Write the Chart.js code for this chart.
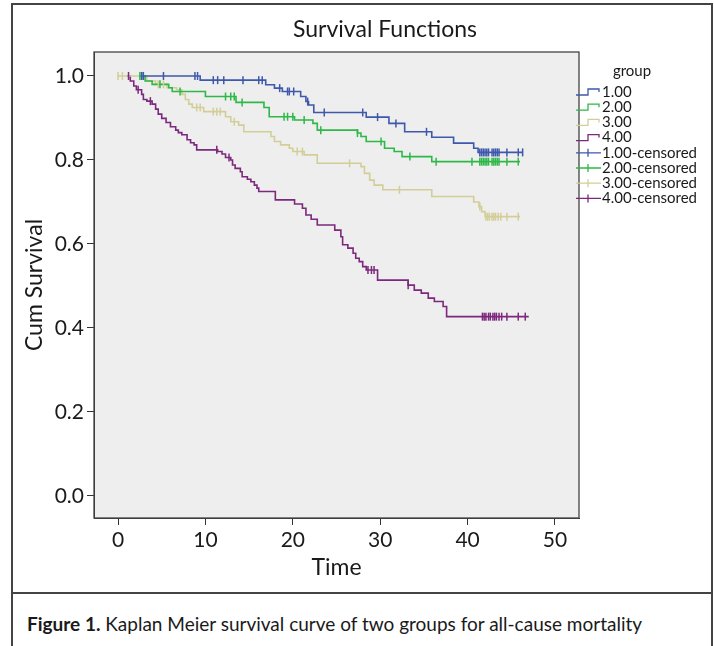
<!DOCTYPE html>
<html>
<head>
<meta charset="utf-8">
<title>Survival Functions</title>
<script src="https://cdn.jsdelivr.net/npm/chart.js@4.4.1/dist/chart.umd.min.js"></script>
<style>
  html, body { margin: 0; padding: 0; background: #fff; }
  body { width: 714px; height: 646px; position: relative; overflow: hidden; font-family: Lato, "Noto Sans", sans-serif; }
  .frame { position: absolute; left: 11px; top: 3px; width: 698px; height: 700px; border: 2px solid #444; }
  .divider { position: absolute; left: 11px; top: 592px; width: 702px; height: 2px; background: #444; }
  #wrap { position: absolute; left: 12px; top: 4px; width: 700px; height: 586px; }
  .caption { position: absolute; left: 27px; top: 612px; font-size: 19px; color: #1a1a1a; white-space: nowrap; }
  .caption b { font-weight: 700; }
</style>
</head>
<body>
<div class="frame"></div>
<div id="wrap"><canvas id="km" width="700" height="586"></canvas></div>
<div class="divider"></div>
<div class="caption"><b>Figure 1.</b> Kaplan Meier survival curve of two groups for all-cause mortality</div>

<script>
// ==========================================
// Data
// ==========================================
const TITLE = 'Survival Functions';
const X_TITLE = 'Time';
const Y_TITLE = 'Cum Survival';
const LEGEND_TITLE = 'group';
const groupNames = ['1.00', '2.00', '3.00', '4.00'];

const xTicks = [0, 10, 20, 30, 40, 50];
const yTicks = [0, 0.2, 0.4, 0.6, 0.8, 1.0];

// group 1.00
const g1Time = [2.7, 9.4, 16.9, 17.9, 18.8, 20.9, 21.5, 21.8, 22.4, 28.4, 31.0, 32.8, 35.9, 38.4, 40.7, 41.2, 46.3];
const g1Surv = [1.0, 0.99, 0.979, 0.971, 0.963, 0.951, 0.939, 0.931, 0.913, 0.902, 0.887, 0.867, 0.854, 0.840, 0.828, 0.818, 0.818];
const g1Censor = [2.7, 2.9, 5.2, 8.8, 9.1, 10.9, 11.4, 12.1, 14.3, 16.1, 16.5, 18.5, 19.4, 19.6, 20.1, 21.7, 23.6, 28.0, 29.7, 31.8, 35.3,
  41.4, 41.6, 41.8, 42.0, 42.2, 42.4, 42.8, 43.0, 43.2, 43.4, 43.6, 44.5, 45.8, 46.3];

// group 2.00
const g2Time = [2.5, 3.1, 3.9, 5.8, 6.2, 10.0, 13.5, 16.7, 17.3, 20.2, 22.3, 22.8, 27.4, 27.8, 28.4, 30.5, 31.6, 32.5, 35.9, 46.0];
const g2Surv = [1.0, 0.988, 0.98, 0.972, 0.963, 0.951, 0.937, 0.925, 0.903, 0.895, 0.887, 0.871, 0.864, 0.856, 0.844, 0.828, 0.82, 0.808, 0.796, 0.796];
const g2Censor = [2.5, 2.7, 4.8, 7.1, 12.3, 12.9, 13.3, 14.2, 19.0, 19.4, 20.0, 21.3, 23.2, 27.4, 30.1, 33.4, 36.4, 40.5,
  41.4, 41.6, 41.8, 42.0, 42.2, 42.4, 42.8, 43.0, 43.2, 43.4, 43.6, 44.5, 45.8];

// group 3.00
const g3Time = [0, 3.3, 4.3, 5.6, 6.7, 7.3, 7.7, 8.1, 8.5, 9.8, 12.3, 12.9, 13.8, 14.4, 17.5, 17.9, 18.6, 19.6, 20.0, 21.3, 22.8,
  27.8, 28.2, 28.8, 29.3, 30.3, 35.9, 40.7, 41.3, 41.6, 42.0, 46.0];
const g3Surv = [1.0, 0.988, 0.98, 0.972, 0.967, 0.956, 0.944, 0.933, 0.925, 0.915, 0.903, 0.891, 0.883, 0.867, 0.856, 0.844, 0.836, 0.828, 0.82, 0.812, 0.792,
  0.784, 0.768, 0.752, 0.74, 0.729, 0.713, 0.70, 0.689, 0.677, 0.665, 0.665];
const g3Censor = [0.0, 0.5, 4.6, 5.2, 9.0, 9.4, 10.9, 11.3, 11.7, 13.3, 20.5, 21.1, 26.5, 32.2, 41.4,
  42.1, 42.3, 42.5, 42.8, 43.0, 43.2, 43.5, 43.8, 44.5, 45.8];

// group 4.00
const g4Time = [1.0, 1.4, 1.8, 2.1, 2.7, 2.9, 3.3, 3.9, 4.3, 4.6, 5.0, 5.5, 6.0, 6.6, 6.9, 7.3, 7.9, 8.3, 8.7, 9.0,
  11.4, 11.9, 12.3, 12.9, 13.1, 13.4, 14.0, 14.2, 14.8, 15.2, 15.6, 15.9, 16.1, 18.0, 20.2, 21.1, 21.5, 22.1, 22.8,
  24.8, 25.5, 25.7, 26.3, 26.9, 27.2, 27.6, 28.0, 28.4, 29.7, 33.2, 33.9, 34.7, 35.5, 36.2, 37.2, 37.6, 47.0];
const g4Surv = [1.0, 0.988, 0.976, 0.967, 0.956, 0.944, 0.94, 0.933, 0.921, 0.909, 0.899, 0.889, 0.879, 0.871, 0.865, 0.86, 0.848, 0.841, 0.836, 0.824,
  0.82, 0.814, 0.806, 0.80, 0.788, 0.78, 0.772, 0.76, 0.754, 0.748, 0.74, 0.733, 0.725, 0.705, 0.695, 0.685, 0.669, 0.659, 0.645,
  0.633, 0.617, 0.598, 0.59, 0.578, 0.566, 0.558, 0.546, 0.538, 0.514, 0.502, 0.49, 0.483, 0.471, 0.463, 0.451, 0.427, 0.427];
const g4Censor = [1.2, 2.3, 3.7, 11.3, 12.7, 28.6, 29.0, 29.3, 33.2,
  41.7, 41.9, 42.1, 42.4, 42.6, 42.9, 43.1, 43.3, 43.6, 43.9, 44.5, 45.8, 46.6];

const colors = ['#3e58ac', '#2eb848', '#d3ce97', '#7c287d'];

// ==========================================
// Helpers
// ==========================================
const toPoints = (times, surv) => times.map((t, i) => ({ x: t, y: surv[i] }));

// value of the step function at time t (censor marks sit on the curve)
function survAt(times, surv, t) {
  let v = surv[0];
  for (let i = 0; i < times.length; i++) {
    if (times[i] <= t) v = surv[i];
  }
  return v;
}

const groups = [
  [g1Time, g1Surv, g1Censor],
  [g2Time, g2Surv, g2Censor],
  [g3Time, g3Surv, g3Censor],
  [g4Time, g4Surv, g4Censor]
];

const censorSets = groups.map(([t, s, c], i) => ({
  label: groupNames[i] + '-censored',
  data: c.map(ct => ({ x: ct, y: survAt(t, s, ct) })),
  showLine: false,
  pointStyle: 'line',
  rotation: 90,
  pointRadius: 4,
  pointHoverRadius: 4,
  pointBorderWidth: 1.5,
  borderColor: colors[i],
  backgroundColor: colors[i]
}));

const lineSets = groups.map(([t, s], i) => ({
  label: groupNames[i],
  data: toPoints(t, s),
  stepped: 'before',
  borderColor: colors[i],
  borderWidth: 1.6,
  pointRadius: 0,
  fill: false
}));

// ==========================================
// Plugins: plot background/frame, title, legend
// ==========================================
const FONT = 'Lato, "Noto Sans", sans-serif';
const TEXT = '#1a1a1a';

const plotFrame = {
  id: 'plotFrame',
  beforeDraw(chart) {
    const { ctx, chartArea: a } = chart;
    ctx.save();
    ctx.fillStyle = '#eeeeee';
    ctx.fillRect(a.left, a.top, a.right - a.left, a.bottom - a.top);
    ctx.restore();
  },
  afterDraw(chart) {
    const { ctx, chartArea: a } = chart;
    ctx.save();
    ctx.strokeStyle = '#444';
    ctx.lineWidth = 1.3;
    ctx.strokeRect(a.left, a.top, a.right - a.left, a.bottom - a.top);
    ctx.restore();
  }
};

const titleAndLegend = {
  id: 'titleAndLegend',
  afterDraw(chart) {
    const ctx = chart.ctx;
    ctx.save();
    ctx.fillStyle = TEXT;
    ctx.textAlign = 'center';
    ctx.textBaseline = 'middle';
    ctx.font = '23px ' + FONT;
    ctx.fillText(TITLE, 373, 26);

    // legend
    const x0 = 564, iconW = 25, rowH = 15.2, y0 = 88;
    ctx.font = '15px ' + FONT;
    ctx.fillText(LEGEND_TITLE, 620, 67);
    ctx.textAlign = 'left';
    const items = [...lineSets, ...censorSets];
    items.forEach((ds, i) => {
      const y = y0 + i * rowH;
      const mid = x0 + 12;
      ctx.strokeStyle = ds.borderColor;
      ctx.lineWidth = 1.3;
      ctx.beginPath();
      if (i < 4) {
        ctx.moveTo(x0, y + 3);
        ctx.lineTo(mid, y + 3);
        ctx.lineTo(mid, y - 3);
        ctx.lineTo(x0 + iconW - 2, y - 3);
        ctx.lineTo(x0 + iconW - 2, y);
      } else {
        ctx.moveTo(x0, y);
        ctx.lineTo(x0 + iconW, y);
        ctx.moveTo(mid, y - 4);
        ctx.lineTo(mid, y + 4);
      }
      ctx.stroke();
      ctx.fillStyle = TEXT;
      ctx.fillText(ds.label, x0 + iconW + 1, y);
    });
    ctx.restore();
  }
};

// ==========================================
// Chart
// ==========================================
const axisColor = '#333';

new Chart(document.getElementById('km'), {
  type: 'line',
  data: { datasets: [...censorSets, ...lineSets] },
  options: {
    responsive: false,
    animation: false,
    layout: { padding: { left: 0, right: 133, top: 48, bottom: 0 } },
    plugins: { legend: { display: false }, tooltip: { enabled: false } },
    scales: {
      x: {
        type: 'linear',
        min: -2.75,
        max: 52.75,
        afterBuildTicks: s => { s.ticks = xTicks.map(v => ({ value: v })); },
        afterFit: s => { s.height = 72; },
        grid: { drawOnChartArea: false, drawTicks: true, tickLength: 7, color: axisColor },
        border: { color: axisColor },
        ticks: { color: TEXT, padding: 3, font: { family: FONT, size: 21 } },
        title: { display: true, text: X_TITLE, color: TEXT, padding: { top: 0, bottom: 9 }, font: { family: FONT, size: 23 } }
      },
      y: {
        type: 'linear',
        min: -0.0524,
        max: 1.057,
        afterBuildTicks: s => { s.ticks = yTicks.map(v => ({ value: v })); },
        afterFit: s => { s.width = 82; },
        grid: { drawOnChartArea: false, drawTicks: true, tickLength: 7, color: axisColor },
        border: { color: axisColor },
        ticks: { color: TEXT, padding: 3, font: { family: FONT, size: 21 }, callback: v => v.toFixed(1) },
        title: { display: true, text: Y_TITLE, color: TEXT, padding: { top: 9, bottom: 0 }, font: { family: FONT, size: 23 } }
      }
    }
  },
  plugins: [plotFrame, titleAndLegend]
});
</script>
</body>
</html>
